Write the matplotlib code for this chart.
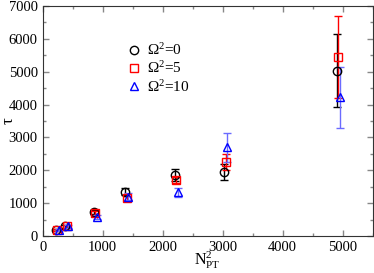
import numpy as np
import matplotlib.pyplot as plt
from matplotlib.lines import Line2D

plt.rcParams['font.family'] = ['Liberation Serif', 'DejaVu Serif']
plt.rcParams['mathtext.fontset'] = 'custom'
plt.rcParams['mathtext.rm'] = 'Liberation Serif'
plt.rcParams['mathtext.it'] = 'Liberation Serif:italic'

# Omega^2 = 0
x0 = [230, 370, 850, 1370, 2200, 3020, 4900]
y0 = [180, 300, 720, 1350, 1850, 1950, 5030]
e0 = [40, 50, 60, 100, 180, 250, 1110]
# Omega^2 = 5
x5 = [240, 400, 870, 1400, 2230, 3050, 4930]
y5 = [180, 290, 710, 1150, 1700, 2250, 5460]
e5 = [40, 50, 60, 80, 100, 250, 1250]
# Omega^2 = 10
x10 = [280, 420, 900, 1420, 2260, 3080, 4960]
y10 = [180, 300, 580, 1200, 1330, 2700, 4220]
e10 = [40, 50, 60, 100, 130, 450, 930]

labels = [r'$\Omega^2$=0', r'$\Omega^2$=5', r'$\Omega^2$=10']

fig = plt.figure(figsize=(3.74, 2.73), dpi=100)
ax = fig.add_axes([0.114, 0.1355, 0.8825, 0.8425])

ax.errorbar(x0, y0, yerr=e0, fmt='o', mfc='none', mec='k', color='k',
            ms=6, mew=1, capsize=3, elinewidth=1)
ax.errorbar(x5, y5, yerr=e5, fmt='s', mfc='none', mec='red', color='red',
            ms=5.5, mew=1, capsize=3, elinewidth=1)
ax.errorbar(x10, y10, yerr=e10, fmt='^', mfc='none', mec='blue', color='#6b6bff',
            ms=6, mew=1, capsize=3, elinewidth=1)

ax.set_xlim(0, 5500)
ax.set_ylim(0, 7000)
ax.set_xticks(np.arange(0, 5001, 1000))
ax.set_xticks(np.arange(0, 5501, 500), minor=True)
ax.set_yticks(np.arange(0, 7001, 1000))
ax.set_yticks(np.arange(0, 7001, 500), minor=True)
ax.tick_params(which='both', direction='in', top=True, right=True,
               color='#888888', labelsize=10.5)
ax.tick_params(which='major', length=4.5, width=1)
ax.tick_params(which='minor', length=2.5, width=1)
for s in ax.spines.values():
    s.set_color('#333333')

ax.set_xlabel(r'N$^2_{\rm PT}$', fontsize=11.5)
ax.xaxis.set_label_coords(0.5, -0.06)
ax.xaxis.label.set_va('top')
ax.set_ylabel('τ', fontsize=12)
ax.yaxis.set_label_coords(-0.104, 0.5)
ax.yaxis.label.set_va('center')

handles = [
    Line2D([], [], ls='none', marker='o', mfc='none', mec='k', ms=6, mew=1),
    Line2D([], [], ls='none', marker='s', mfc='none', mec='red', ms=5.5, mew=1),
    Line2D([], [], ls='none', marker='^', mfc='none', mec='blue', ms=6, mew=1),
]
ax.legend(handles, labels, loc='upper left', bbox_to_anchor=(0.225, 0.875),
          frameon=False, fontsize=11, handletextpad=0.3, labelspacing=0.15,
          handlelength=1.2, borderpad=0)

fig.savefig('out.png', dpi=100)
